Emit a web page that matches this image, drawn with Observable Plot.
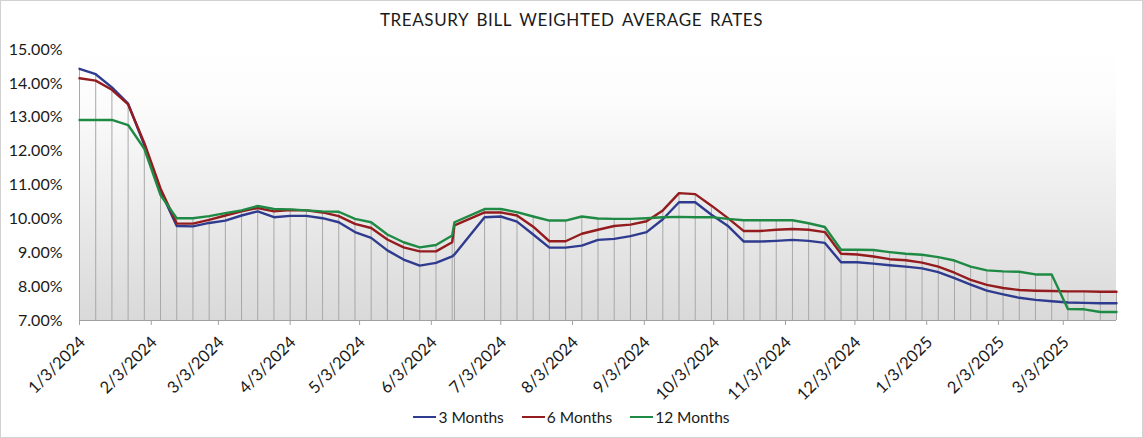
<!DOCTYPE html>
<html><head><meta charset="utf-8">
<script src="https://cdn.jsdelivr.net/npm/d3@7"></script>
<script src="https://cdn.jsdelivr.net/npm/@observablehq/plot@0.6"></script>
<style>
body{margin:0;background:#fff;}
#chart{position:relative;width:1143px;height:438px;font-family:Lato,"Open Sans",sans-serif;overflow:hidden;background:#fff;}
#frame{position:absolute;left:0;top:0;width:1143px;height:438px;box-sizing:border-box;border:1px solid #d2d2d2;pointer-events:none;}
#title{position:absolute;left:0;width:100%;top:9px;text-align:center;font-size:17px;color:#1a1a1a;letter-spacing:0.6px;word-spacing:3px;}
#plot{position:absolute;left:0;top:38px;}
#legend{position:absolute;left:0;width:100%;top:408px;display:flex;justify-content:center;font-size:15.5px;color:#1a1a1a;}
.item{display:flex;align-items:center;margin:0 9px;}
.sw{display:inline-block;width:23px;height:2.5px;margin-right:2px;}
</style>
</head><body>
<div id="chart">
  <div id="title">TREASURY BILL WEIGHTED AVERAGE RATES</div>
  <div id="plot"></div>
  <div id="legend"></div>
  <div id="frame"></div>
</div>
<script>
// ---- DATA ----
const dates = [
"2024-01-03","2024-01-10","2024-01-17","2024-01-24","2024-01-31","2024-02-07","2024-02-14","2024-02-21","2024-02-28",
"2024-03-06","2024-03-13","2024-03-20","2024-03-27","2024-04-03","2024-04-10","2024-04-17","2024-04-24","2024-05-01",
"2024-05-08","2024-05-15","2024-05-22","2024-05-29","2024-06-05","2024-06-12","2024-06-13","2024-06-26","2024-07-03",
"2024-07-10","2024-07-17","2024-07-24","2024-07-31","2024-08-07","2024-08-14","2024-08-21","2024-08-28","2024-09-04",
"2024-09-11","2024-09-18","2024-09-25","2024-10-02","2024-10-09","2024-10-16","2024-10-23","2024-10-30","2024-11-06",
"2024-11-13","2024-11-20","2024-11-27","2024-12-04","2024-12-11","2024-12-18","2024-12-25","2025-01-01","2025-01-08",
"2025-01-15","2025-01-22","2025-01-29","2025-02-05","2025-02-12","2025-02-19","2025-02-26","2025-03-05","2025-03-12",
"2025-03-19","2025-03-26"];

const threeMonths = [
14.43,14.27,13.88,13.40,12.18,10.82,9.79,9.78,9.88,
9.95,10.10,10.22,10.05,10.09,10.09,10.02,9.90,9.61,
9.44,9.07,8.80,8.62,8.70,8.89,8.95,10.05,10.07,
9.92,9.54,9.15,9.15,9.21,9.38,9.41,9.49,9.61,
9.99,10.49,10.49,10.12,9.80,9.33,9.33,9.35,9.38,
9.35,9.29,8.72,8.72,8.68,8.63,8.59,8.54,8.43,
8.25,8.06,7.88,7.77,7.67,7.61,7.57,7.53,7.52,
7.51,7.51];

const sixMonths = [
14.15,14.08,13.81,13.38,12.24,10.90,9.86,9.86,9.97,
10.10,10.22,10.32,10.22,10.26,10.25,10.19,10.08,9.85,
9.73,9.39,9.16,9.04,9.04,9.31,9.81,10.19,10.19,
10.10,9.77,9.34,9.34,9.56,9.68,9.79,9.83,9.93,
10.25,10.76,10.73,10.39,10.03,9.64,9.64,9.68,9.70,
9.68,9.61,8.97,8.95,8.89,8.81,8.78,8.71,8.59,
8.41,8.20,8.05,7.96,7.90,7.88,7.87,7.86,7.86,
7.85,7.85];

const twelveMonths = [
12.92,12.92,12.92,12.77,12.07,10.70,10.02,10.02,10.08,
10.17,10.25,10.38,10.29,10.28,10.25,10.22,10.21,10.00,
9.90,9.54,9.31,9.16,9.23,9.51,9.90,10.29,10.29,
10.20,10.07,9.95,9.95,10.07,10.01,10.00,10.00,10.02,
10.05,10.06,10.05,10.05,10.00,9.96,9.96,9.96,9.96,
9.87,9.76,9.09,9.09,9.08,9.02,8.97,8.94,8.87,
8.77,8.59,8.48,8.45,8.44,8.36,8.36,7.34,7.33,
7.25,7.25];

const seriesNames = ["3 Months","6 Months","12 Months"];
const seriesColors = ["#2e3b8e","#941c1f","#1f8a44"];
const yTicks = [7,8,9,10,11,12,13,14,15];
const xTickLabels = ["1/3/2024","2/3/2024","3/3/2024","4/3/2024","5/3/2024","6/3/2024","7/3/2024","8/3/2024",
"9/3/2024","10/3/2024","11/3/2024","12/3/2024","1/3/2025","2/3/2025","3/3/2025"];

// ---- BUILD ----
const parse = d3.utcParse("%Y-%m-%d");
const parseMDY = d3.utcParse("%m/%d/%Y");
const xTicks = xTickLabels.map(parseMDY);
const labelOf = new Map(xTicks.map((d,i)=>[+d, xTickLabels[i]]));
const allSeries = [threeMonths, sixMonths, twelveMonths];
const rows = [];
allSeries.forEach((vals, s) => vals.forEach((v,i) => rows.push({date: parse(dates[i]), value: v, series: seriesNames[s]})));
const drops = dates.map((d,i) => ({date: parse(d), top: Math.max(threeMonths[i], sixMonths[i], twelveMonths[i])}));

function gradientBg(index, scales, values, dims) {
  const {width, height, marginLeft, marginRight, marginTop, marginBottom} = dims;
  const g = d3.create("svg:g");
  const grad = g.append("defs").append("linearGradient").attr("id","bgGrad")
    .attr("x1",0).attr("y1",0).attr("x2",0).attr("y2",1);
  grad.append("stop").attr("offset","0%").attr("stop-color","#ffffff");
  grad.append("stop").attr("offset","22%").attr("stop-color","#fbfbfb");
  grad.append("stop").attr("offset","100%").attr("stop-color","#d9d9d9");
  g.append("rect").attr("x", marginLeft).attr("y", marginTop)
    .attr("width", width - marginLeft - marginRight)
    .attr("height", height - marginTop - marginBottom)
    .attr("fill","url(#bgGrad)");
  return g.node();
}

const chart = Plot.plot({
  width: 1143,
  height: 370,
  marginTop: 11,
  marginBottom: 88,
  marginLeft: 79,
  marginRight: 27,
  style: {fontFamily: "Lato, 'Open Sans', sans-serif", background: "transparent", color: "#1a1a1a"},
  x: {type: "utc", domain: [parse(dates[0]), parse(dates[dates.length-1])]},
  y: {domain: [7, 15]},
  color: {domain: seriesNames, range: seriesColors},
  marks: [
    gradientBg,
    Plot.ruleX(drops, {x: "date", y1: 7, y2: "top", stroke: "#a8a8a8", strokeWidth: 1}),
    Plot.ruleY([7], {stroke: "#a0a0a0", strokeWidth: 1.2}),
    Plot.line(rows, {x: "date", y: "value", z: "series", stroke: "series", strokeWidth: 2.4, strokeLinejoin: "round"}),
    Plot.axisY({ticks: yTicks, tickFormat: d => d.toFixed(2) + "%", tickSize: 0, tickPadding: 17, fontSize: 16, label: null}),
    Plot.axisX({ticks: xTicks, tickSize: 5, tickFormat: () => "", label: null, stroke: "#a0a0a0"}),
    Plot.axisX({ticks: xTicks, tickFormat: d => labelOf.get(+d), tickSize: 0, tickPadding: 19, tickRotate: -45,
      dx: 3, fontSize: 16.5, fill: "#1a1a1a", label: null})
  ]
});
document.getElementById("plot").appendChild(chart);

const legend = document.getElementById("legend");
seriesNames.forEach((n,i) => {
  const it = document.createElement("div"); it.className = "item";
  const sw = document.createElement("span"); sw.className = "sw"; sw.style.background = seriesColors[i];
  const tx = document.createElement("span"); tx.textContent = n;
  it.appendChild(sw); it.appendChild(tx); legend.appendChild(it);
});
</script>
</body></html>
